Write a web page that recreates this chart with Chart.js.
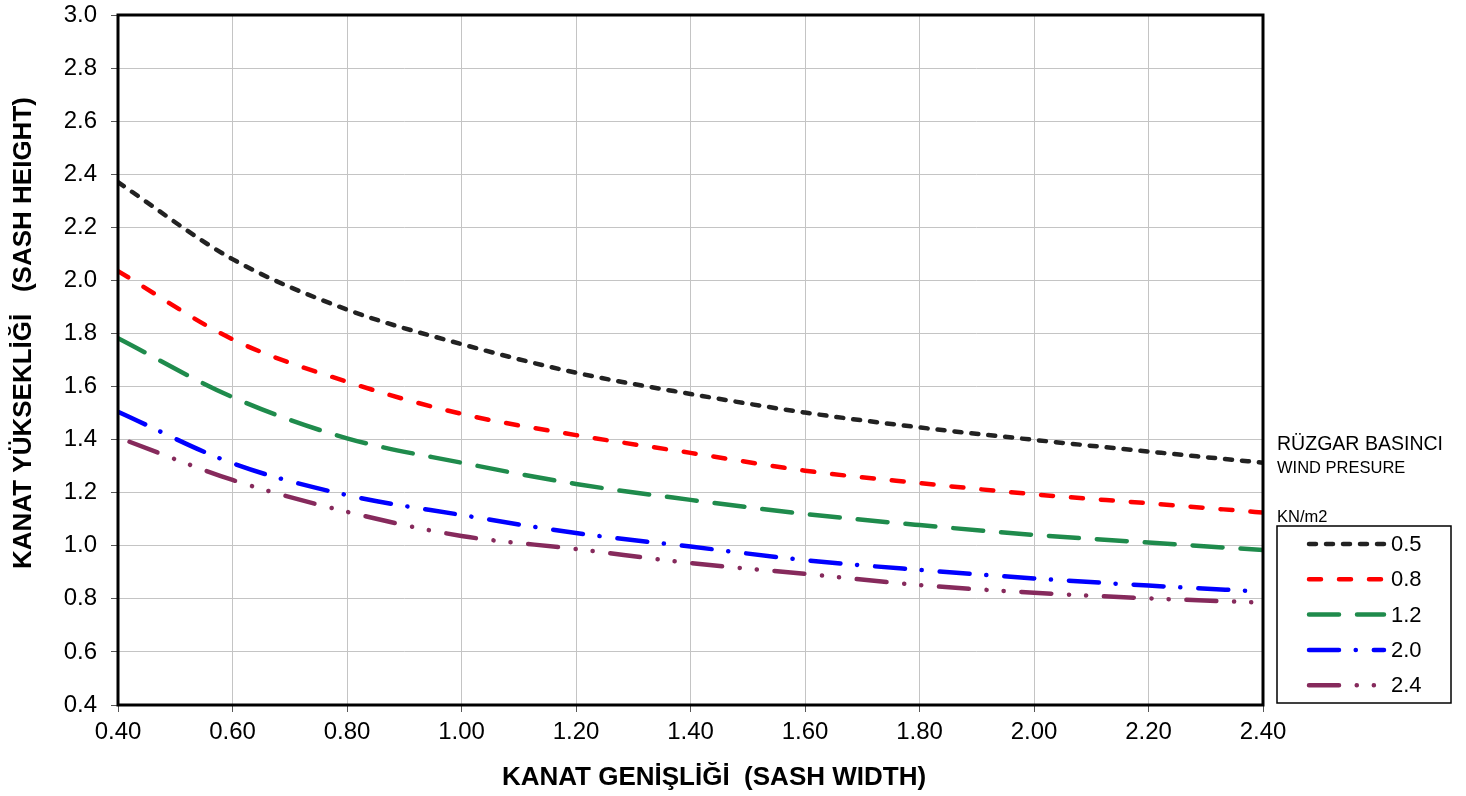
<!DOCTYPE html>
<html>
<head>
<meta charset="utf-8">
<script src="https://cdn.jsdelivr.net/npm/chart.js@4.4.0/dist/chart.umd.min.js"></script>
<style>
html, body { margin: 0; padding: 0; background: #fff; }
#wrap { width: 1466px; height: 796px; }
</style>
</head>
<body>
<div id="wrap"><canvas id="grafico" width="1466" height="796"></canvas></div>
<script>
//kanat genişliği (x)
var widths = [0.40, 0.60, 0.80, 1.00, 1.20, 1.40, 1.60, 1.80, 2.00, 2.20, 2.40];
var widths24 = [0.42, 0.60, 0.80, 1.00, 1.20, 1.40, 1.60, 1.80, 2.00, 2.20, 2.40];

//kanat yüksekliği, her rüzgar basıncı için
var h05 = [2.37, 2.08, 1.89, 1.76, 1.652, 1.572, 1.502, 1.446, 1.399, 1.355, 1.313];
var h08 = [2.035, 1.778, 1.618, 1.497, 1.417, 1.35, 1.283, 1.236, 1.194, 1.16, 1.125];
var h12 = [1.782, 1.56, 1.405, 1.313, 1.233, 1.173, 1.12, 1.078, 1.041, 1.012, 0.984];
var h20 = [1.505, 1.311, 1.191, 1.116, 1.048, 0.997, 0.946, 0.909, 0.877, 0.85, 0.827];
var h24 = [1.392, 1.248, 1.128, 1.037, 0.988, 0.935, 0.894, 0.852, 0.823, 0.802, 0.786];

var pressures = ['0.5', '0.8', '1.2', '2.0', '2.4'];

var FONT = "'Liberation Sans', Arial, sans-serif";

function pts(xs, ys) {
    return xs.map(function (x, i) { return { x: x, y: ys[i] }; });
}

function serie(label, xs, ys, color, dash) {
    return {
        label: label,
        data: pts(xs, ys),
        borderColor: color,
        backgroundColor: color,
        borderWidth: 4.5,
        borderDash: dash,
        borderCapStyle: 'round',
        pointRadius: 0,
        fill: false,
        tension: 0.4,
        cubicInterpolationMode: 'monotone'
    };
}

var data = {
    datasets: [
        serie(pressures[0], widths, h05, '#222222', [7, 10]),
        serie(pressures[1], widths, h08, '#ff0000', [12, 18]),
        serie(pressures[2], widths, h12, '#1f8b4c', [30, 18]),
        serie(pressures[3], widths, h20, '#0000ff', [30, 16.7, 0.1, 18]),
        serie(pressures[4], widths24, h24, '#862a5c', [30, 17.7, 0.1, 17, 0.1, 17.7])
    ]
};

//çerçeve, eksen başlıkları ve gösterge
var extras = {
    id: 'extras',
    afterDraw: function (chart) {
        var ctx = chart.ctx;
        var a = chart.chartArea;
        ctx.save();
        ctx.setLineDash([]);
        ctx.strokeStyle = '#000';
        ctx.lineWidth = 3;
        ctx.strokeRect(a.left, a.top, a.right - a.left, a.bottom - a.top);

        ctx.fillStyle = '#000';
        ctx.font = 'bold 26px ' + FONT;
        ctx.textAlign = 'center';
        ctx.textBaseline = 'middle';
        ctx.fillText('KANAT GENİŞLİĞİ  (SASH WIDTH)', 714, 778);

        ctx.save();
        ctx.translate(24, 333);
        ctx.rotate(-Math.PI / 2);
        ctx.fillText('KANAT YÜKSEKLİĞİ   (SASH HEIGHT)', 0, 0);
        ctx.restore();

        ctx.textAlign = 'left';
        ctx.textBaseline = 'alphabetic';
        ctx.save();
        ctx.translate(1277, 450);
        ctx.scale(0.93, 1);
        ctx.font = '21px ' + FONT;
        ctx.fillText('RÜZGAR BASINCI', 0, 0);
        ctx.restore();
        ctx.font = '16.5px ' + FONT;
        ctx.fillText('WIND PRESURE', 1277, 473);
        ctx.fillText('KN/m2', 1277, 522);

        ctx.lineWidth = 1.5;
        ctx.strokeRect(1277, 526, 174, 177);

        chart.data.datasets.forEach(function (ds, i) {
            var y = 544 + i * 35.3;
            ctx.beginPath();
            ctx.setLineDash(ds.borderDash);
            ctx.lineCap = 'round';
            ctx.lineWidth = ds.borderWidth;
            ctx.strokeStyle = ds.borderColor;
            ctx.moveTo(1309, y);
            ctx.lineTo(1384, y);
            ctx.stroke();
            ctx.setLineDash([]);
            ctx.font = '22px ' + FONT;
            ctx.textBaseline = 'middle';
            ctx.fillText(ds.label, 1391, y + 1);
        });
        ctx.restore();
    }
};

var options = {
    responsive: false,
    animation: false,
    layout: { padding: { left: 0, top: 15, right: 203, bottom: 0 } },
    plugins: {
        legend: { display: false },
        tooltip: { enabled: false }
    },
    scales: {
        x: {
            type: 'linear',
            min: 0.4,
            max: 2.4,
            afterFit: function (s) { s.height = 91; s.paddingLeft = 0; s.paddingRight = 0; },
            ticks: {
                stepSize: 0.2,
                padding: 6,
                color: '#000',
                font: { family: FONT, size: 24 },
                callback: function (v) { return v.toFixed(2); }
            },
            grid: { color: '#c4c4c4', tickColor: '#555', tickLength: 7, lineWidth: 1 },
            border: { display: false }
        },
        y: {
            min: 0.4,
            max: 3.0,
            afterFit: function (s) { s.width = 118; s.paddingTop = 0; s.paddingBottom = 0; },
            ticks: {
                stepSize: 0.2,
                padding: 14,
                color: '#000',
                font: { family: FONT, size: 24 },
                callback: function (v) { return v.toFixed(1); }
            },
            grid: { color: '#c4c4c4', tickColor: '#555', tickLength: 7, lineWidth: 1 },
            border: { display: false }
        }
    }
};

var ctx = document.querySelector('#grafico');
var lineChart = new Chart(ctx, {
    type: 'line',
    data: data,
    options: options,
    plugins: [extras]
});
</script>
</body>
</html>
